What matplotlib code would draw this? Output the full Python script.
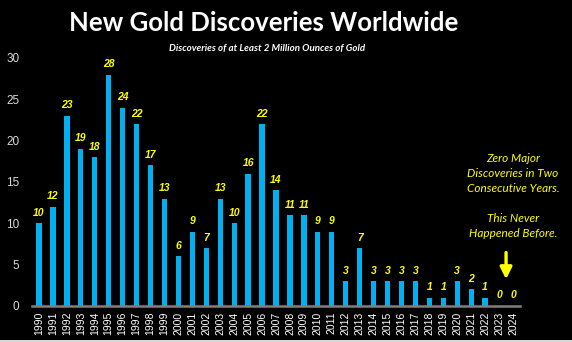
import matplotlib
matplotlib.use("Agg")
import matplotlib.pyplot as plt
from matplotlib.patches import Rectangle

years = [str(y) for y in range(1990, 2025)]
discoveries = [10, 12, 23, 19, 18, 28, 24, 22, 17, 13, 6, 9, 7, 13, 10, 16, 22, 14,
               11, 11, 9, 9, 3, 7, 3, 3, 3, 3, 1, 1, 3, 2, 1, 0, 0]
y_ticks = [0, 5, 10, 15, 20, 25, 30]

title = "New Gold Discoveries Worldwide"
subtitle = "Discoveries of at Least 2 Million Ounces of Gold"
note = "Zero Major\nDiscoveries in Two\nConsecutive Years.\n\nThis Never\nHappened Before."

BLUE = "#00B0F0"
YELLOW = "#FFFF00"

plt.rcParams["font.family"] = ["Lato", "DejaVu Sans"]

fig = plt.figure(figsize=(5.72, 3.42), dpi=100, facecolor="black")
ax = fig.add_axes([32 / 572, 1 - 306 / 342, 488 / 572, 248 / 342], facecolor="black")

x = list(range(len(years)))
ax.bar(x, discoveries, width=0.38, color=BLUE, zorder=2)

for xi, v in zip(x, discoveries):
    ax.annotate(str(v), (xi, v), xytext=(0, 4), textcoords="offset points",
                ha="center", va="bottom", color=YELLOW, fontsize=7.5,
                fontweight="bold", fontstyle="italic", family=["Liberation Sans"],
                annotation_clip=False)

ax.set_xlim(-0.5, len(years) - 0.5)
ax.set_ylim(0, 30)
ax.set_xticks(x)
ax.set_xticklabels(years, rotation=90, color="white", fontsize=7.5,
                   family=["Liberation Sans"])
ax.set_yticks(y_ticks)
ax.set_yticklabels([str(t) for t in y_ticks], color="#D9D9D9", fontsize=8.5,
                   family=["Liberation Sans"])
ax.tick_params(axis="both", length=0, pad=4)
ax.tick_params(axis="y", pad=9)

for s in ["top", "right", "left"]:
    ax.spines[s].set_visible(False)
ax.spines["bottom"].set_color("#808080")
ax.spines["bottom"].set_linewidth(1.8)

fig.text(264 / 572, 1 - 23 / 342, title, ha="center", va="center", color="white",
         fontsize=18.5, fontweight="bold")
fig.text(267 / 572, 1 - 48 / 342, subtitle, ha="center", va="center", color="white",
         fontsize=7, fontweight="bold", fontstyle="italic")

fig.text(513 / 572, 1 - 196 / 342, note, ha="center", va="center", color=YELLOW,
         fontsize=8.5, fontstyle="italic", linespacing=1.45)

ax.annotate("", xy=(33.5, 2.9), xytext=(33.5, 6.8),
            arrowprops=dict(arrowstyle="-|>,head_width=0.35,head_length=0.7",
                            color=YELLOW, lw=2.4),
            annotation_clip=False)

# thin light strip along the bottom edge of the slide
fig.patches.append(Rectangle((0, 0), 1, 2 / 342, transform=fig.transFigure,
                             facecolor="#D8D8D8", edgecolor="none"))

fig.savefig("out.png", dpi=100, facecolor="black")
